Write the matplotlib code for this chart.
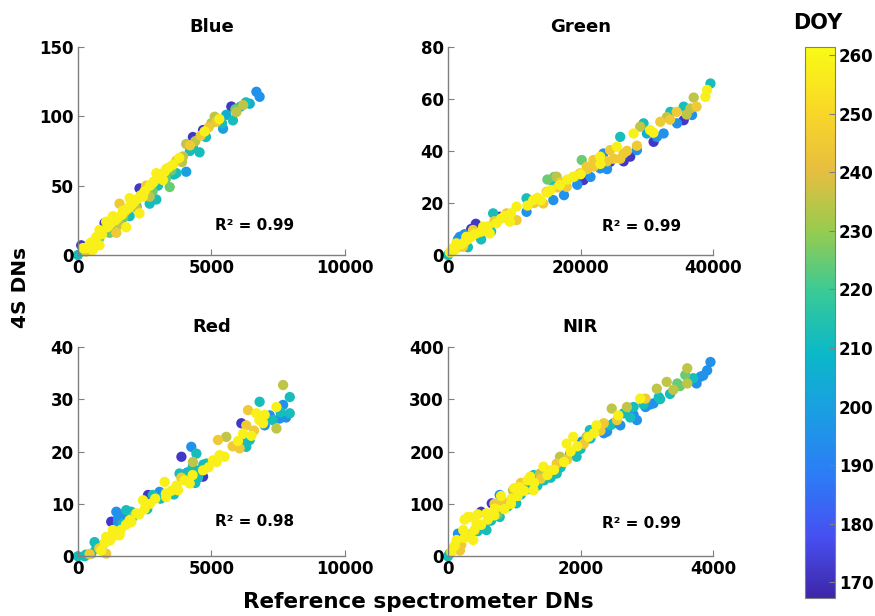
import numpy as np
import matplotlib
matplotlib.use("Agg")
import matplotlib.pyplot as plt
from matplotlib.colors import LinearSegmentedColormap, Normalize
from matplotlib.cm import ScalarMappable

plt.rcParams["font.family"] = ["DejaVu Sans"]
plt.rcParams["font.weight"] = "bold"

# ---- data (x = reference DNs, y = 4S DNs, doy = day of year) ----
blue_x = [0, 125, 190, 310, 440, 560, 690, 810, 810, 1000, 1060, 1190, 1310, 1440, 1560,
          1560, 1690, 1810, 1940, 1940, 1940, 2190, 2310, 2310, 2440, 2560, 2690, 2690, 2810,
          2940, 2940, 3190, 3310, 3440, 3560, 3690, 3690, 3940, 4060, 4060, 4310, 4310, 4560,
          4690, 4750, 5125, 5190, 5440, 5560, 5750, 5810, 5940, 6190, 6440, 6690, 6810,
          300, 500, 650, 900, 1100, 1200, 1400, 1500, 1650, 1750, 1850, 2000, 2100, 2200,
          2350, 2500, 2600, 2700, 2850, 3000, 3100, 3250, 3400, 3500, 3600, 3300, 3000, 2800,
          2200, 1700, 1200, 800, 4200, 4400, 4600, 4900, 5000, 5300, 5400, 5900, 6100, 6300,
          4800, 4200, 3800, 3900]
blue_y = [0, 7, 5, 2.4, 8, 3.6, 13, 18, 7, 23, 24, 16, 28, 16, 22,
          37, 32, 20, 41, 28, 35, 34, 48, 30, 42, 50, 37, 42, 52,
          59, 40, 54, 62, 49, 65, 68, 59, 71, 80, 60, 85, 78, 74,
          90, 89, 99.6, 96, 91, 101, 107, 97, 103, 108, 109, 117.6, 114,
          5, 9, 11, 15, 20, 22, 25, 27, 29, 31, 33, 36, 38, 40,
          43, 46, 48, 50, 53, 56, 58, 60, 63, 61, 58, 55, 50, 46,
          35, 27, 19, 12, 79, 82, 86, 92, 95, 98, 95, 105, 107, 110,
          85, 75, 70, 67]
blue_doy = [212, 172, 258, 245, 258, 258, 258, 258, 258, 172, 258, 225, 258, 245, 235,
            245, 258, 258, 258, 212, 258, 235, 172, 258, 258, 245, 212, 235, 258,
            258, 212, 258, 258, 225, 258, 245, 212, 235, 235, 200, 172, 212, 212,
            172, 258, 235, 245, 200, 205, 172, 212, 235, 235, 205, 195, 195,
            258, 258, 245, 258, 258, 258, 258, 258, 258, 245, 258, 258, 258, 258,
            258, 258, 235, 258, 258, 258, 258, 258, 258, 225, 212, 225, 212, 225,
            212, 225, 212, 225, 245, 235, 245, 245, 235, 258, 212, 225, 205, 212,
            212, 212, 258, 235]

green_x = [0, 760, 1260, 1770, 2270, 2770, 3780, 4290, 5300, 6300, 6810, 7310, 7820, 8830,
           9330, 10340, 10340, 11850, 11850, 12860, 14370, 14880, 15890, 15890, 16390, 16900,
           17910, 18910, 19920, 20180, 20430, 20930, 21940, 22950, 22950, 23450, 24460, 24460,
           25470, 25980, 26480, 27490, 28000, 28500, 29000, 29500, 30010, 31020, 31520, 32030,
           32530, 33040, 33540, 34550, 35560, 35560, 36570, 36820, 37070, 38840, 39090, 39600,
           300, 500, 1000, 1500, 2000, 2500, 3000, 3500, 4000, 4500, 5000, 5500, 6000, 7000,
           8000, 8500, 9000, 9500, 2500, 3500, 4200, 1500, 3000, 5000, 6500, 12000, 13000,
           13500, 14000, 15000, 15500, 16500, 17000, 18000, 19000, 20000, 21000, 22000, 23000,
           24000, 25000, 26000, 27000, 15000, 16000, 17500, 19500, 21500, 24000, 26500, 28500,
           30500, 31000, 33500, 34500, 36000, 37500]
green_y = [0, 2.6, 4.5, 7, 3.2, 7, 9.6, 10.9, 10.9, 8.3, 16, 12.2, 14.7, 16,
           12.8, 18.6, 13.4, 21.8, 16.6, 21.1, 19.8, 24.3, 28.2, 21.1, 30.1, 26.9,
           26.2, 30.1, 31.4, 36.5, 28.8, 33.9, 36.5, 37.8, 33.3, 39, 40.3, 35.8,
           41.6, 45.4, 39, 37.8, 46.7, 40.3, 49.3, 50.6, 46.7, 43.5, 45.4, 51.2,
           46.7, 53, 55, 50.6, 57, 51.8, 56.3, 53.8, 60.5, 60.8, 63.4, 65.9,
           1, 1.5, 2, 3, 4, 5, 6, 7, 8, 8.5, 9, 10, 11, 13,
           14, 15, 14, 16, 8, 10, 12, 6, 3, 6, 9, 19, 20,
           22, 21, 24, 25, 26, 28, 29, 30, 31, 33, 34, 35,
           36, 37, 37, 40, 29, 30, 23, 27, 30, 33, 36, 42,
           48, 47, 52, 55, 54, 57]
green_doy = [212, 258, 258, 195, 245, 258, 245, 172, 258, 258, 212, 258, 172, 245,
             258, 258, 245, 212, 195, 258, 245, 245, 212, 195, 235, 258,
             245, 258, 245, 225, 172, 245, 245, 258, 195, 195, 245, 172,
             258, 212, 245, 172, 258, 195, 235, 212, 205, 172, 195, 245,
             195, 235, 212, 195, 212, 172, 235, 195, 235, 258, 258, 212,
             258, 245, 258, 245, 258, 258, 258, 258, 258, 245, 258, 258, 258, 245,
             258, 258, 245, 258, 195, 172, 172, 195, 212, 212, 212, 258, 245,
             258, 258, 258, 258, 245, 245, 258, 245, 258, 245, 245, 258,
             245, 245, 245, 245, 225, 225, 195, 195, 195, 195, 172, 245,
             258, 258, 245, 245, 235, 245]

red_x = [0, 250, 440, 625, 690, 875, 1060, 1060, 1190, 1250, 1310, 1440, 1500, 1560, 1690,
         1810, 1940, 2060, 2190, 2440, 2560, 2630, 2810, 3060, 3250, 3310, 3750, 3810, 3875,
         3880, 4060, 4190, 4250, 4310, 4440, 4690, 4690, 4810, 5060, 5250, 5310, 5560, 6060,
         6125, 6190, 6310, 6310, 6375, 6440, 6690, 6810, 6940, 7190, 7440, 7440, 7560, 7690,
         7690, 7940, 7940,
         300, 500, 800, 1000, 1200, 1400, 1600, 1800, 2000, 2300, 2500, 2700, 2900, 3100,
         3300, 3500, 3700, 4000, 4300, 4500, 4600, 4900, 5200, 5500, 5800, 6000, 6200, 6500,
         6600, 6800, 7000, 7300, 7600, 7800, 1500, 1700, 2000, 900, 2600, 3600, 4100, 4300,
         4400, 4700, 7000]
red_y = [0, 0, 0.4, 2.7, 1.5, 1.1, 3.7, 0.5, 3.1, 6.6, 5, 8.5, 7.2, 4, 6.2,
         8.8, 6.9, 7.5, 8.2, 10.7, 10.1, 11.7, 11.7, 12.3, 14.2, 11.3, 12.6, 15.8, 15,
         19, 15.8, 13.9, 20.9, 18, 19.6, 16.4, 15.2, 17.7, 18.3, 22.2, 19.3, 22.8, 20.6,
         25.4, 23.4, 25, 20.9, 27.9, 22.2, 27.3, 29.5, 25.4, 26.9, 28.5, 24.4, 26.3, 32.7,
         28.9, 30.4, 27.3,
         0.3, 0.5, 1.5, 2.5, 3, 4, 5, 6, 6.5, 8, 9, 10, 11, 11,
         12, 12.5, 13.5, 14.5, 15.5, 15, 16.5, 17, 18, 19, 21, 22, 21.5, 23,
         24, 26, 27, 26, 27.5, 26.5, 6.5, 7.8, 8.5, 2, 9, 11.8, 16, 17,
         14, 17.5, 25]
red_doy = [212, 212, 245, 212, 212, 258, 258, 245, 245, 172, 258, 195, 195, 258, 212,
           212, 258, 225, 258, 258, 235, 172, 212, 195, 258, 258, 258, 212, 245,
           172, 212, 258, 195, 235, 212, 258, 172, 212, 258, 245, 258, 235, 245,
           172, 258, 245, 212, 245, 212, 258, 212, 258, 195, 258, 235, 195, 235,
           195, 212, 212,
           212, 212, 245, 258, 258, 258, 258, 258, 258, 258, 258, 258, 258, 212,
           258, 258, 258, 258, 258, 212, 212, 258, 258, 258, 245, 258, 212, 258,
           245, 258, 258, 212, 212, 195, 195, 195, 212, 212, 212, 212, 195, 212,
           212, 212, 195]

nir_x = [0, 25, 80, 130, 150, 180, 230, 330, 380, 430, 500, 580, 580, 660, 710, 780, 780,
         830, 960, 980, 1030, 1080, 1190, 1240, 1290, 1290, 1390, 1440, 1540, 1640, 1640,
         1690, 1790, 1840, 1890, 1940, 2020, 2090, 2120, 2140, 2240, 2350, 2400, 2470, 2500,
         2570, 2650, 2700, 2800, 2850, 2900, 2980, 2980, 3100, 3150, 3180, 3300, 3460, 3580,
         3610, 3610, 3810, 3910, 3960,
         50, 100, 200, 250, 300, 350, 400, 450, 500, 550, 600, 650, 700, 750, 850, 900, 950,
         1000, 1050, 1100, 1150, 1200, 1300, 1350, 1400, 1450, 1500, 1550, 1600, 1700, 1750,
         1800, 1850, 1900, 1950, 2000, 2050, 2150, 2200, 2300, 2350, 2450, 2550, 2600, 2750,
         2800, 2950, 3050, 3200, 3350, 3400, 3500, 3700, 3750, 3850, 300, 250, 450, 700, 800,
         1000, 1200, 1100]
nir_y = [0, 5, 15, 31, 43, 11, 50, 75, 31, 62, 85, 82, 50, 101, 91, 117, 75,
         104, 110, 126, 101, 132, 139, 152, 155, 126, 158, 171, 164, 177, 158,
         190, 215, 196, 228, 190, 219, 228, 228, 241, 250, 254, 238, 282, 254,
         269, 273, 285, 285, 260, 301, 301, 285, 292, 320, 304, 333, 330, 346,
         359, 330, 343, 355, 371,
         8, 20, 22, 35, 40, 42, 50, 48, 60, 58, 70, 68, 78, 80, 90, 95, 100,
         105, 115, 118, 125, 128, 140, 135, 148, 145, 155, 150, 165, 170, 180,
         185, 200, 195, 210, 205, 215, 225, 235, 240, 235, 250, 260, 250, 265,
         270, 290, 290, 300, 310, 318, 325, 340, 330, 345, 75, 70, 80, 100, 115,
         130, 145, 140]
nir_doy = [212, 212, 245, 258, 195, 245, 258, 258, 258, 258, 172, 258, 212, 172, 258, 195, 212,
           245, 258, 235, 212, 258, 212, 258, 212, 258, 235, 258, 258, 245, 212,
           235, 258, 212, 258, 212, 195, 235, 258, 212, 258, 245, 195, 235, 195,
           258, 212, 235, 212, 195, 258, 245, 195, 195, 235, 212, 235, 225, 225,
           235, 235, 195, 195, 195,
           258, 258, 245, 258, 258, 212, 258, 212, 258, 212, 258, 212, 258, 225, 258, 212, 258,
           212, 258, 212, 258, 212, 258, 212, 245, 212, 258, 212, 258, 212, 258,
           245, 258, 212, 258, 212, 245, 212, 258, 245, 195, 212, 245, 195, 212,
           195, 212, 195, 212, 212, 235, 225, 212, 195, 195, 258, 258, 258, 245, 258,
           258, 258, 245]

titles = ["Blue", "Green", "Red", "NIR"]
r2_labels = ["R\u00b2 = 0.99", "R\u00b2 = 0.99", "R\u00b2 = 0.98", "R\u00b2 = 0.99"]
x_ticks = [[0, 5000, 10000], [0, 20000, 40000], [0, 5000, 10000], [0, 2000, 4000]]
y_ticks = [[0, 50, 100, 150], [0, 20, 40, 60, 80], [0, 10, 20, 30, 40], [0, 100, 200, 300, 400]]
cbar_ticks = [170, 180, 190, 200, 210, 220, 230, 240, 250, 260]

# parula-like colormap (MATLAB default)
parula = LinearSegmentedColormap.from_list("parula", [
    (0.2422, 0.1504, 0.6603), (0.2760, 0.3130, 0.9474), (0.1727, 0.4860, 0.9661),
    (0.1068, 0.6150, 0.8923), (0.0400, 0.7237, 0.7846), (0.2239, 0.7907, 0.5898),
    (0.5931, 0.7986, 0.3102), (0.9087, 0.7439, 0.2480), (0.9754, 0.8481, 0.1512),
    (0.9769, 0.9839, 0.0805)])
norm = Normalize(vmin=167.3, vmax=261.4)

fig = plt.figure(figsize=(8.75, 6.16), dpi=100)
rects = [[0.089, 0.586, 0.305, 0.338], [0.512, 0.586, 0.303, 0.338],
         [0.089, 0.097, 0.305, 0.340], [0.512, 0.097, 0.303, 0.340]]
r2_pos = [(0.663, 0.144), (0.731, 0.136), (0.663, 0.164), (0.731, 0.156)]
data = [(blue_x, blue_y, blue_doy), (green_x, green_y, green_doy),
        (red_x, red_y, red_doy), (nir_x, nir_y, nir_doy)]

for i in range(4):
    ax = fig.add_axes(rects[i])
    xs, ys, cs = (np.asarray(a, dtype=float) for a in data[i])
    order = np.argsort(cs, kind="stable")  # later days drawn on top
    ax.scatter(xs[order], ys[order], c=cs[order], cmap=parula, norm=norm, s=55,
               edgecolors="none", clip_on=False)
    ax.set_xlim(x_ticks[i][0], x_ticks[i][-1])
    ax.set_ylim(y_ticks[i][0], y_ticks[i][-1])
    ax.set_xticks(x_ticks[i])
    ax.set_yticks(y_ticks[i])
    ax.spines["top"].set_visible(False)
    ax.spines["right"].set_visible(False)
    for s in ["left", "bottom"]:
        ax.spines[s].set_color("#7f7f7f")
        ax.spines[s].set_linewidth(1.0)
    ax.tick_params(direction="in", length=4, color="#7f7f7f", labelsize=12, pad=3)
    for lab in ax.get_xticklabels() + ax.get_yticklabels():
        lab.set_fontweight("bold")
    ax.set_title(titles[i], fontsize=13, fontweight="bold", pad=11)
    ax.text(r2_pos[i][0], r2_pos[i][1], r2_labels[i], transform=ax.transAxes,
            ha="center", va="center", fontsize=11, fontweight="bold")

fig.text(0.023, 0.534, "4S DNs", rotation=90, ha="center", va="center",
         fontsize=14.5, fontweight="bold")
fig.text(0.478, 0.023, "Reference spectrometer DNs", ha="center", va="center",
         fontsize=15.5, fontweight="bold")

cax = fig.add_axes([0.920, 0.029, 0.034, 0.895])
sm = ScalarMappable(norm=norm, cmap=parula)
cb = fig.colorbar(sm, cax=cax, ticks=cbar_ticks)
cb.outline.set_edgecolor("#7f7f7f")
cax.tick_params(direction="in", length=4, color="#7f7f7f", labelsize=12, pad=3)
for lab in cax.get_yticklabels():
    lab.set_fontweight("bold")
fig.text(0.935, 0.962, "DOY", ha="center", va="center", fontsize=15, fontweight="bold")

fig.savefig("out.png", dpi=100)
